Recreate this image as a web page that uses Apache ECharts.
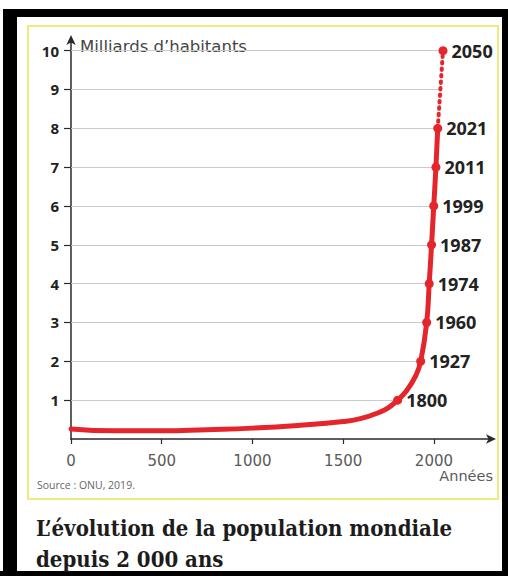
<!DOCTYPE html>
<html><head><meta charset="utf-8">
<script src="https://cdn.jsdelivr.net/npm/echarts@6/dist/echarts.min.js"></script>
<style>
html,body{margin:0;padding:0;background:#fff;}
#wrap{position:relative;width:508px;height:576px;background:#fff;overflow:hidden;}
.blk{position:absolute;background:#000;}
#frame{position:absolute;left:27px;top:25px;width:468px;height:471px;border:2px solid #eeea7c;}
#c{position:absolute;left:0;top:0;width:508px;height:576px;}
</style>
</head><body>
<div id="wrap">
  <div class="blk" style="left:7px;top:9px;width:501px;height:8px;"></div>
  <div class="blk" style="left:3px;top:9px;width:14px;height:567px;"></div>
  <div class="blk" style="left:502px;top:9px;width:6px;height:567px;"></div>
  <div class="blk" style="left:0;top:571px;width:508px;height:5px;"></div>
  <div id="frame"></div>
  <div id="c"></div>
</div>
<script>
// ---- data ----
const years = [0, 250, 500, 750, 1000, 1250, 1500, 1600, 1700, 1750, 1800, 1850, 1900, 1927, 1960, 1974, 1987, 1999, 2011, 2021];
const population = [0.26, 0.21, 0.21, 0.24, 0.28, 0.35, 0.45, 0.53, 0.69, 0.81, 1.0, 1.25, 1.63, 2, 3, 4, 5, 6, 7, 8];
const projectionYears = [2021, 2050];
const projectionPopulation = [8, 10];
const labelledYears = [1800, 1927, 1960, 1974, 1987, 1999, 2011, 2021, 2050];
const yTicks = [1, 2, 3, 4, 5, 6, 7, 8, 9, 10];
const xTicks = [0, 500, 1000, 1500, 2000];
const yAxisName = 'Milliards d\u2019habitants';
const xAxisName = 'Ann\u00e9es';
const sourceText = 'Source : ONU, 2019.';
const titleLines = ['L\u2019\u00e9volution de la population mondiale', 'depuis 2 000 ans'];

// ---- helpers ----
const allYears = years.concat(projectionYears.slice(1));
const allPop = population.concat(projectionPopulation.slice(1));
function popAt(y) { return allPop[allYears.indexOf(y)]; }
function yearReaching(v) {
  for (let i = 1; i < allYears.length; i++) {
    if (allPop[i] >= v && allPop[i - 1] < v) {
      const t = (v - allPop[i - 1]) / (allPop[i] - allPop[i - 1]);
      return allYears[i - 1] + t * (allYears[i] - allYears[i - 1]);
    }
  }
  return allYears[allYears.length - 1];
}

const RED = '#e4262c';
const AXIS = '#2a2a2a';
const TITLE_FONT = "'DejaVu Serif Condensed', 'Liberation Serif', serif";
const chart = echarts.init(document.getElementById('c'), null, { renderer: 'svg' });
chart.setOption({
  animation: false,
  backgroundColor: 'transparent',
  grid: { left: 71, width: 421, top: 39, height: 400, containLabel: false },
  xAxis: {
    type: 'value', min: 0, max: 2320,
    axisLine: { show: true, lineStyle: { color: AXIS, width: 1.5 }, symbol: ['none', 'arrow'], symbolSize: [7, 10], symbolOffset: [0, 4] },
    axisTick: { show: true, length: 5, lineStyle: { color: AXIS, width: 1.2 }, customValues: xTicks },
    axisLabel: { customValues: xTicks, margin: 14, fontSize: 15, color: '#5a5a5a', fontFamily: 'DejaVu Sans', formatter: v => String(v) },
    splitLine: { show: false }
  },
  yAxis: {
    type: 'value', min: 0, max: 10.3,
    name: yAxisName, nameLocation: 'end', nameGap: -7,
    nameTextStyle: { align: 'left', verticalAlign: 'middle', padding: [0, 0, 0, 9], fontSize: 16.5, color: '#444', fontFamily: 'DejaVu Sans' },
    axisLine: { show: true, lineStyle: { color: AXIS, width: 1.5 }, symbol: ['none', 'arrow'], symbolSize: [7, 10], symbolOffset: [0, 4] },
    axisTick: { show: true, length: 7, lineStyle: { color: AXIS, width: 1.2 }, customValues: yTicks },
    axisLabel: { customValues: yTicks, margin: 12, fontSize: 15, fontWeight: 'bold', color: '#222', fontFamily: 'Open Sans' },
    splitLine: { show: false }
  },
  series: [
    {
      type: 'line', name: 'historique', z: 3,
      data: years.map((y, i) => [y, population[i]]),
      smooth: 0.5, symbol: 'none',
      lineStyle: { color: RED, width: 5, cap: 'round', join: 'round' },
      markLine: {
        silent: true, symbol: 'none', z: 1, animation: false,
        label: { show: false },
        lineStyle: { color: '#cacaca', width: 1, type: 'solid' },
        emphasis: { disabled: true },
        data: yTicks.map(v => [{ coord: [0, v] }, { coord: [yearReaching(v), v] }])
      }
    },
    {
      type: 'line', name: 'projection', z: 3,
      data: projectionYears.map((y, i) => [y, projectionPopulation[i]]),
      symbol: 'none',
      lineStyle: { color: RED, width: 4, type: [1.5, 5], cap: 'round' }
    },
    {
      type: 'scatter', name: 'jalons', z: 4,
      data: labelledYears.map(y => [y, popAt(y)]),
      symbol: 'circle', symbolSize: 9,
      itemStyle: { color: RED, opacity: 1 },
      label: {
        show: true, position: 'right', distance: 4,
        formatter: p => String(p.value[0]),
        fontSize: 18, fontWeight: 'bold', color: '#222', fontFamily: 'Open Sans'
      }
    }
  ],
  graphic: [
    { type: 'text', x: 493, y: 476, style: { text: xAxisName, align: 'right', verticalAlign: 'middle', fontSize: 14.5, fill: '#5a5a5a', fontFamily: 'DejaVu Sans' } },
    { type: 'text', x: 37, y: 485, style: { text: sourceText, align: 'left', verticalAlign: 'middle', fontSize: 10.5, fill: '#666', fontFamily: 'Open Sans' } },
    { type: 'text', x: 36, y: 528, style: { text: titleLines[0], align: 'left', verticalAlign: 'middle', fontSize: 22, fontWeight: 'bold', fill: '#1c1c1c', fontFamily: TITLE_FONT } },
    { type: 'text', x: 36, y: 559, style: { text: titleLines[1], align: 'left', verticalAlign: 'middle', fontSize: 22, fontWeight: 'bold', fill: '#1c1c1c', fontFamily: TITLE_FONT } }
  ]
});
</script>
</body></html>
